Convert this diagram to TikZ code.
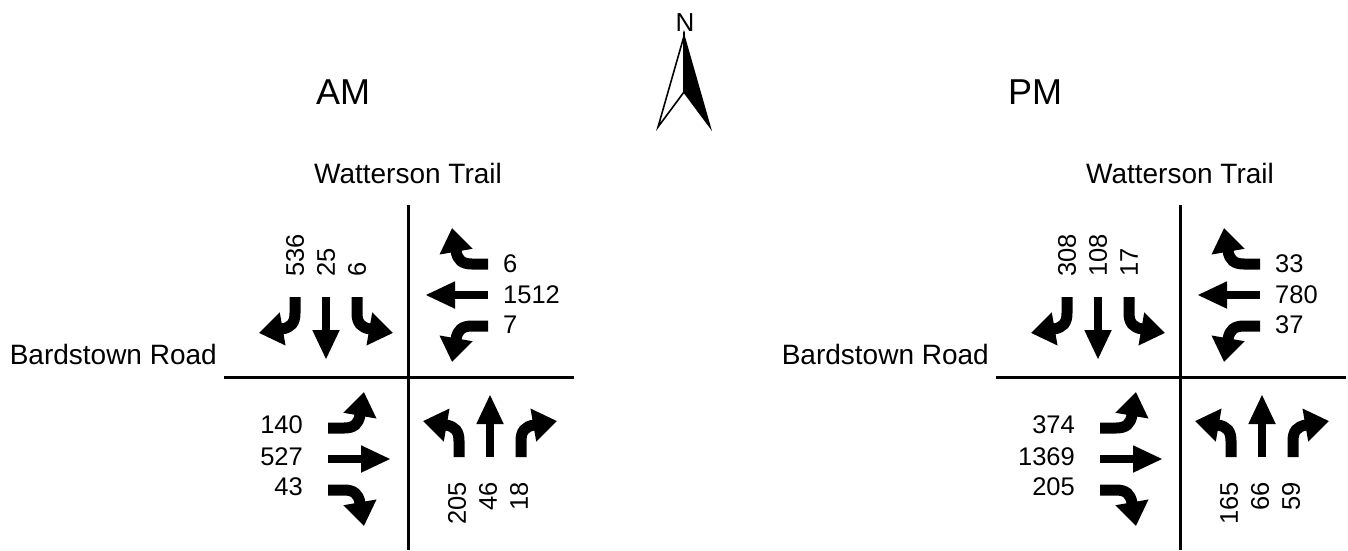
\documentclass[tikz,border=0pt]{standalone}
\usepackage{fontspec}
\setmainfont{Liberation Sans}
\usetikzlibrary{arrows.meta}

\tikzset{
  road/.style={line width=3pt},
  thru/.style={line width=8pt, -{Triangle[length=30pt,width=25pt]}},
  turn/.style={line width=11pt, -{Triangle[length=24pt,width=32pt]}},
  vol/.style={inner sep=0pt, font=\fontsize{25.5}{30}\selectfont},
  street/.style={inner sep=0pt, font=\fontsize{28}{32}\selectfont},
  period/.style={inner sep=0pt, font=\fontsize{36}{40}\selectfont},
  % three lane arrows of one approach, drawn for southbound traffic
  pics/lanes/.style={code={
    \draw[turn] (-113,-80) -- (-113,-64) .. controls (-113,-54) and (-117,-49.6) .. (-126,-48) -- (-149,-44);
    \draw[thru] (-82,-80) -- (-82,-17);
    \draw[turn] (-51,-80) -- (-51,-64) .. controls (-51,-54) and (-47,-49.6) .. (-38,-48) -- (-15,-44);
  }}
}

\begin{document}
\begin{tikzpicture}[x=1pt, y=-1pt]
  \useasboundingbox (0,0) rectangle (1348,550);

  % Titres
  \node[period] (am) at (343,92) {AM};
  \node[period] (pm) at (1035,92) {PM};

  % Rose des vents
  \node[inner sep=0pt, font=\fontsize{26}{30}\selectfont] (N) at (685,23) {N};
  \coordinate (tip) at (684,36);
  \coordinate (notch) at (684,92);
  \coordinate (bl) at (658,127);
  \coordinate (br) at (710,127);
  \draw[line width=1.6pt] (tip) -- (bl) -- (notch) -- cycle;
  \filldraw[line width=1.6pt] (tip) -- (notch) -- (br) -- cycle;

  % Un carrefour par periode : AM puis PM
  \foreach \dx/\sa/\sb/\sc/\wa/\wb/\wc/\ea/\eb/\ec/\na/\nb/\nc in
    {0/536/25/6/6/1512/7/140/527/43/205/46/18,
     772/308/108/17/33/780/37/374/1369/205/165/66/59}{
    \begin{scope}[shift={(\dx,0)}]
      \coordinate (c) at (408,377);
      \draw[road] (408,205) -- (408,550);
      \draw[road] (224,377) -- (574,377);
      \node[street] (wt\dx) at (408,173) {Watterson Trail};
      \node[street, anchor=east] (br\dx) at (217,354) {Bardstown Road};

      % fleches des quatre approches
      \pic at (c) {lanes};
      \pic[rotate=-90] at (c) {lanes};
      \pic[rotate=180] at (c) {lanes};
      \pic[rotate=90] at (c) {lanes};

      % volumes, sud
      \node[vol, rotate=90, anchor=west] (s1\dx) at (295,277) {\sa};
      \node[vol, rotate=90, anchor=west] (s2\dx) at (326,277) {\sb};
      \node[vol, rotate=90, anchor=west] (s3\dx) at (357,277) {\sc};
      % volumes, ouest
      \node[vol, anchor=west] (w1\dx) at (503,264) {\wa};
      \node[vol, anchor=west] (w2\dx) at (503,295) {\wb};
      \node[vol, anchor=west] (w3\dx) at (503,325) {\wc};
      % volumes, est
      \node[vol, anchor=east] (e1\dx) at (303,425) {\ea};
      \node[vol, anchor=east] (e2\dx) at (303,457) {\eb};
      \node[vol, anchor=east] (e3\dx) at (303,487) {\ec};
      % volumes, nord
      \node[vol, rotate=90, anchor=east] (n1\dx) at (457,482) {\na};
      \node[vol, rotate=90, anchor=east] (n2\dx) at (488,482) {\nb};
      \node[vol, rotate=90, anchor=east] (n3\dx) at (519,482) {\nc};
    \end{scope}
  }
\end{tikzpicture}
\end{document}
